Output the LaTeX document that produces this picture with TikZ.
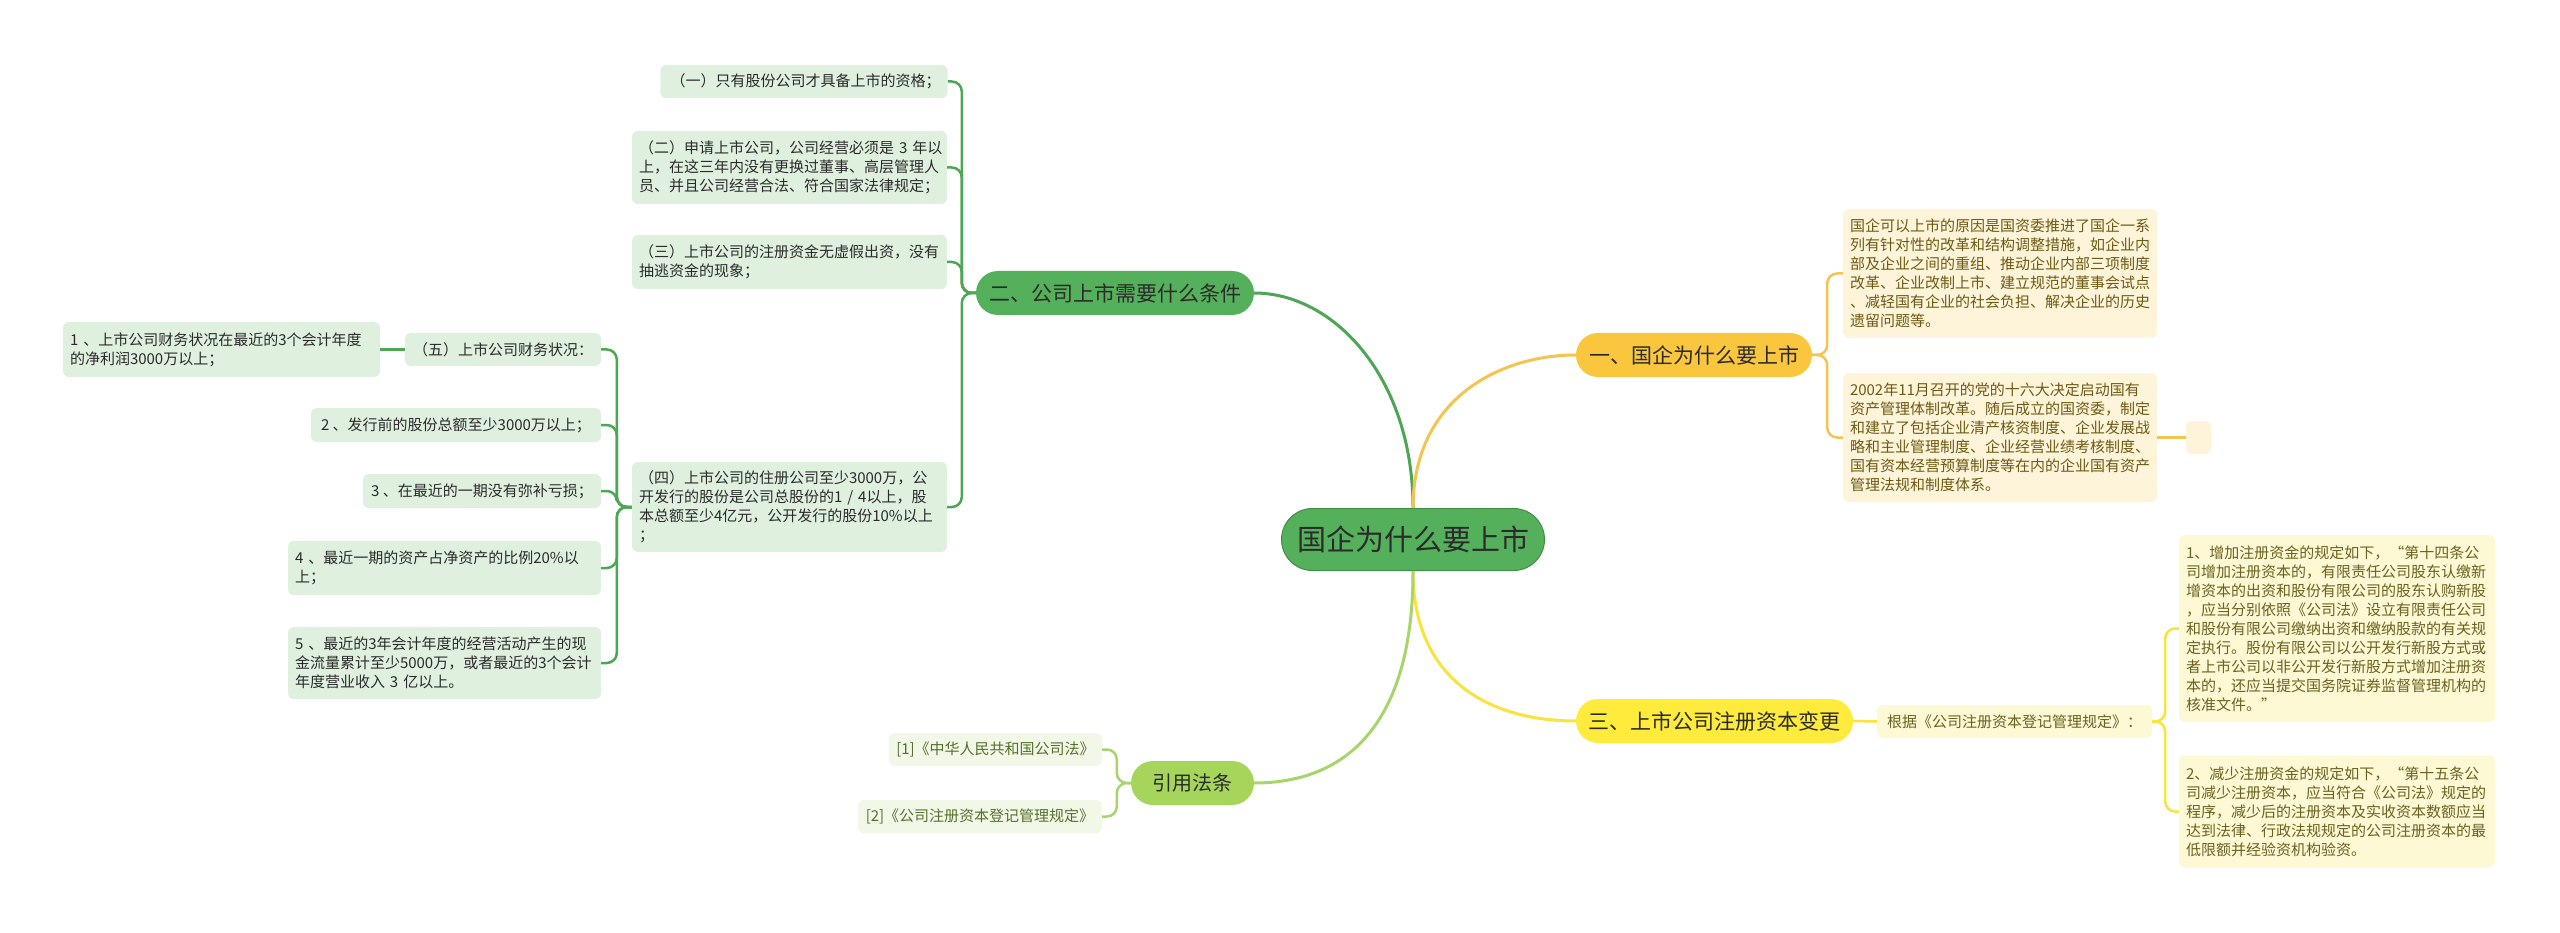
\documentclass[tikz,border=0pt]{standalone}
\usepackage{fontspec}
\setmainfont{Noto Sans CJK SC}
\definecolor{gmain}{HTML}{55B05C}
\definecolor{gline}{HTML}{4DA654}
\definecolor{gleaf}{HTML}{DFF0DE}
\definecolor{omain}{HTML}{F9C63E}
\definecolor{oline}{HTML}{F3C450}
\definecolor{oleaf}{HTML}{FDF4DA}
\definecolor{otext}{HTML}{6E5A14}
\definecolor{ymain}{HTML}{FFEB3B}
\definecolor{yline}{HTML}{F8E43C}
\definecolor{yleaf}{HTML}{FDF9D5}
\definecolor{ytext}{HTML}{6A6220}
\definecolor{lmain}{HTML}{A5D65B}
\definecolor{lline}{HTML}{A8D46C}
\definecolor{lleaf}{HTML}{F1F8E7}
\definecolor{ltext}{HTML}{56702C}
\definecolor{dtext}{HTML}{2B2B2B}
\begin{document}
\begin{tikzpicture}[x=1pt,y=-1pt,
  rootnode/.style={fill=gmain, draw=gline!85!black, line width=1pt, rounded corners=31pt, minimum width=263pt, minimum height=62pt, inner sep=0pt, font=\fontsize{29}{34}\selectfont, text=dtext},
  branch/.style={rounded corners=22pt, minimum height=44pt, inner sep=0pt, font=\fontsize{21}{25}\selectfont, text=dtext},
  leaf/.style={rounded corners=6pt, inner ysep=0pt, inner xsep=7pt, font=\fontsize{15}{19}\selectfont, align=left},
  gl/.style={leaf, fill=gleaf, text=dtext},
  ol/.style={leaf, fill=oleaf, text=otext},
  yl/.style={leaf, fill=yleaf, text=ytext},
  ll/.style={leaf, fill=lleaf, text=ltext},
  gcon/.style={draw=gline, line width=2.5pt, rounded corners=10pt},
  ocon/.style={draw=oline, line width=2.5pt, rounded corners=10pt},
  ycon/.style={draw=yline, line width=2.5pt, rounded corners=10pt},
  lcon/.style={draw=lline, line width=2.5pt, rounded corners=10pt},
  curve/.style={line width=3pt}
]
\useasboundingbox (0,0) rectangle (2560,933);
\fill[white] (0,0) rectangle (2560,933);

% root and main branches
\node[rootnode] (root) at (1413,539.5) {国企为什么要上市};
\node[branch, fill=gmain, minimum width=278pt] (er) at (1115,293) {二、公司上市需要什么条件};
\node[branch, fill=omain, minimum width=236pt] (yi) at (1694,355) {一、国企为什么要上市};
\node[branch, fill=ymain, minimum width=277pt] (san) at (1714.5,721) {三、上市公司注册资本变更};
\node[branch, fill=lmain, minimum width=123pt, font=\fontsize{20}{24}\selectfont] (yy) at (1192.5,783) {引用法条};

% green leaves
\node[gl, minimum width=286pt, minimum height=33pt] (g1) at (804,81.5) {~（一）只有股份公司才具备上市的资格；};
\node[gl, text width=301pt, minimum height=73pt] (g2) at (789.5,167.5) {（二）申请上市公司，公司经营必须是~3~年以\\上，在这三年内没有更换过董事、高层管理人\\员、并且公司经营合法、符合国家法律规定；};
\node[gl, text width=301pt, minimum height=54pt] (g3) at (789.5,262) {（三）上市公司的注册资金无虚假出资，没有\\抽逃资金的现象；};
\node[gl, text width=301pt, minimum height=90pt] (g4) at (789.5,507) {（四）上市公司的住册公司至少3000万，公\\开发行的股份是公司总股份的1~/~4以上，股\\本总额至少4亿元，公开发行的股份10\%以上\\；};
\node[gl, minimum width=196pt, minimum height=33pt] (g5) at (503,349.5) {（五）上市公司财务状况：};
\node[gl, text width=303pt, minimum height=55pt] (n1) at (221.5,349.5) {1~、上市公司财务状况在最近的3个会计年度\\的净利润3000万以上；};
\node[gl, minimum width=290pt, minimum height=34pt] (n2) at (456,425) {2~、发行前的股份总额至少3000万以上；};
\node[gl, minimum width=238pt, minimum height=34pt] (n3) at (482,491) {3~、在最近的一期没有弥补亏损；};
\node[gl, text width=299pt, minimum height=54pt] (n4) at (444.5,568) {4~、最近一期的资产占净资产的比例20\%以\\上；};
\node[gl, text width=299pt, minimum height=72pt] (n5) at (444.5,663) {5~、最近的3年会计年度的经营活动产生的现\\金流量累计至少5000万，或者最近的3个会计\\年度营业收入~3~亿以上。};

% orange leaves
\node[ol, text width=300pt, minimum height=129pt] (oA) at (2000,273.5) {国企可以上市的原因是国资委推进了国企一系\\列有针对性的改革和结构调整措施，如企业内\\部及企业之间的重组、推动企业内部三项制度\\改革、企业改制上市、建立规范的董事会试点\\、减轻国有企业的社会负担、解决企业的历史\\遗留问题等。};
\node[ol, text width=300pt, minimum height=129pt] (oB) at (2000,437.5) {2002年11月召开的党的十六大决定启动国有\\资产管理体制改革。随后成立的国资委，制定\\和建立了包括企业清产核资制度、企业发展战\\略和主业管理制度、企业经营业绩考核制度、\\国有资本经营预算制度等在内的企业国有资产\\管理法规和制度体系。};
\node[leaf, fill=oleaf, minimum width=25pt, minimum height=33pt, inner xsep=0pt] (oE) at (2198.5,437.5) {};

% yellow leaves
\node[yl, minimum width=275pt, minimum height=33pt] (gj) at (2014.5,721.5) {根据《公司注册资本登记管理规定》：};
\node[yl, text width=302pt, minimum height=187pt] (yC) at (2337,628.5) {1、增加注册资金的规定如下，“第十四条公\\司增加注册资本的，有限责任公司股东认缴新\\增资本的出资和股份有限公司的股东认购新股\\，应当分别依照《公司法》设立有限责任公司\\和股份有限公司缴纳出资和缴纳股款的有关规\\定执行。股份有限公司以公开发行新股方式或\\者上市公司以非公开发行新股方式增加注册资\\本的，还应当提交国务院证券监督管理机构的\\核准文件。”};
\node[yl, text width=302pt, minimum height=112pt] (yD) at (2337,811.5) {2、减少注册资金的规定如下，“第十五条公\\司减少注册资本，应当符合《公司法》规定的\\程序，减少后的注册资本及实收资本数额应当\\达到法律、行政法规规定的公司注册资本的最\\低限额并经验资机构验资。};

% light green leaves
\node[ll, minimum width=213pt, minimum height=33pt] (L1) at (995.5,749.5) {[1]《中华人民共和国公司法》};
\node[ll, minimum width=244pt, minimum height=33pt] (L2) at (980,816.5) {[2]《公司注册资本登记管理规定》};

% connectors
\foreach \c in {g1,g2,g3,g4} \draw[gcon] (er.west) -- ++(-14,0) |- (\c.east);
\foreach \c in {g5,n2,n3,n4,n5} \draw[gcon] (g4.west) -- ++(-15,0) |- (\c.east);
\draw[gcon] (g5.west) -- (n1.east);
\foreach \c in {oA,oB} \draw[ocon] (yi.east) -- ++(15,0) |- (\c.west);
\draw[ocon] (oB.east) -- (oE.west);
\draw[ycon] (san.east) -- (gj.west);
\foreach \c in {yC,yD} \draw[ycon] (gj.east) -- ++(13,0) |- (\c.west);
\foreach \c in {L1,L2} \draw[lcon] (yy.west) -- ++(-14,0) |- (\c.east);

% main curves
\draw[curve, draw=gline] (root.north) .. controls +(0,-130) and +(80,0) .. (er.east);
\draw[curve, draw=oline] (root.north) .. controls +(0,-110) and +(-75,0) .. (yi.west);
\draw[curve, draw=yline] (root.south) .. controls +(0,110) and +(-85,0) .. (san.west);
\draw[curve, draw=lline] (root.south) .. controls +(0,150) and +(95,0) .. (yy.east);
\end{tikzpicture}
\end{document}
